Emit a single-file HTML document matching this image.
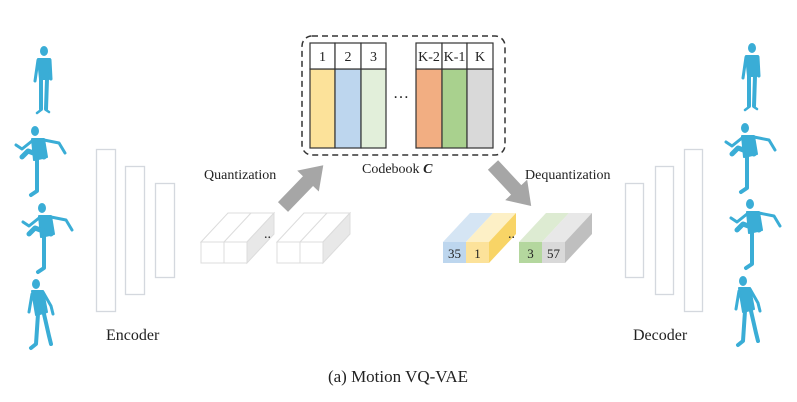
<!DOCTYPE html>
<html><head><meta charset="utf-8"><style>
html,body{margin:0;padding:0;background:#fff;}
svg{display:block;}
text{font-family:"Liberation Serif",serif;fill:#222;}
</style></head><body>
<svg width="797" height="402" viewBox="0 0 797 402" xmlns="http://www.w3.org/2000/svg">
<defs>
<g id="stand" fill="#3AADD6" stroke="#3AADD6" stroke-linecap="round" stroke-linejoin="round">
 <ellipse cx="0" cy="0" rx="4" ry="5" stroke="none"/>
 <path d="M-6 8 L6 8 L5 28 L-4 28 Z" stroke-width="2"/>
 <path d="M-6 9 L-9 30 M6 9 L7 28" stroke-width="3" fill="none"/>
 <path d="M-3 28 L-3 58 M3 28 L2 58" stroke-width="4" fill="none"/>
 <path d="M-3 59 L-7 62 M2 59 L5 61" stroke-width="2.5" fill="none"/>
</g>
<g id="kick" fill="#3AADD6" stroke="#3AADD6" stroke-linecap="round" stroke-linejoin="round">
 <ellipse cx="0" cy="0" rx="4" ry="5" stroke="none"/>
 <path d="M-3 8 L9 8 L12 26 L-1 29 Z" stroke-width="2"/>
 <path d="M9 9 L24 12 L30 22 M-3 10 L-13 18 L-19 14" stroke-width="3" fill="none"/>
 <path d="M2 28 L2 60 L-4 64" stroke-width="4" fill="none"/>
 <path d="M9 26 L-7 20 L-13 26" stroke-width="5" fill="none"/>
</g>
<g id="lean" fill="#3AADD6" stroke="#3AADD6" stroke-linecap="round" stroke-linejoin="round">
 <ellipse cx="0" cy="0" rx="4" ry="5" stroke="none"/>
 <path d="M-4 7 L7 7 L11 28 L0 31 Z" stroke-width="2"/>
 <path d="M7 8 L15 22 L17 30 M-4 10 L-7 28" stroke-width="3" fill="none"/>
 <path d="M2 30 L0 60 L-5 64 M8 30 L13 52 L15 60" stroke-width="4" fill="none"/>
</g>
</defs>

<use href="#stand" x="44" y="51"/>
<use href="#kick" x="35" y="131"/>
<use href="#kick" x="42" y="208"/>
<use href="#lean" x="36" y="284"/>
<use href="#stand" x="752" y="48"/>
<use href="#kick" x="745" y="128"/>
<use href="#kick" x="750" y="204"/>
<use href="#lean" x="743" y="281"/>

<g fill="#fff" stroke="#d4d8de" stroke-width="1.3">
 <rect x="96.5" y="149.5" width="19" height="162"/>
 <rect x="125.5" y="166.5" width="19" height="128"/>
 <rect x="155.5" y="183.5" width="19" height="94"/>
 <rect x="625.5" y="183.5" width="18" height="94"/>
 <rect x="655.5" y="166.5" width="18" height="128"/>
 <rect x="684.5" y="149.5" width="18" height="162"/>
</g>
<text x="106" y="340" font-size="16">Encoder</text>
<text x="633" y="340" font-size="16">Decoder</text>

<rect x="302" y="36" width="203" height="119" rx="10" fill="none" stroke="#333" stroke-width="1.5" stroke-dasharray="6,4"/>
<g stroke="#333" stroke-width="1.2">
 <rect x="310" y="69" width="25" height="79" fill="#FCE29A"/>
 <rect x="335" y="69" width="26" height="79" fill="#BDD6EE"/>
 <rect x="361" y="69" width="25" height="79" fill="#E2EFDA"/>
 <rect x="416" y="69" width="26" height="79" fill="#F2AE82"/>
 <rect x="442" y="69" width="25" height="79" fill="#A9D18E"/>
 <rect x="467" y="69" width="26" height="79" fill="#D9D9D9"/>
 <rect x="310" y="43" width="25" height="26" fill="#fff"/>
 <rect x="335" y="43" width="26" height="26" fill="#fff"/>
 <rect x="361" y="43" width="25" height="26" fill="#fff"/>
 <rect x="416" y="43" width="26" height="26" fill="#fff"/>
 <rect x="442" y="43" width="25" height="26" fill="#fff"/>
 <rect x="467" y="43" width="26" height="26" fill="#fff"/>
</g>
<g font-size="14" text-anchor="middle">
 <text x="322.5" y="61">1</text><text x="348" y="61">2</text><text x="373.5" y="61">3</text>
 <text x="429" y="61">K-2</text><text x="454.5" y="61">K-1</text><text x="480" y="61">K</text>
</g>
<text x="401" y="98" font-size="16" text-anchor="middle">…</text>
<text x="362" y="173" font-size="14">Codebook <tspan font-weight="bold" font-style="italic">C</tspan></text>
<text x="204" y="179" font-size="14">Quantization</text>
<text x="525" y="179" font-size="14">Dequantization</text>

<!-- arrows -->
<g transform="translate(283,207) rotate(-46)" fill="#A6A6A6">
 <polygon points="0,-7 36,-7 36,-15 58,0 36,15 36,7 0,7"/>
</g>
<g transform="translate(493,165) rotate(47)" fill="#A6A6A6">
 <polygon points="0,-7 34,-7 34,-15 56,0 34,15 34,7 0,7"/>
</g>

<!-- left cubes -->
<g stroke="#dcdcdc" stroke-width="1">
 <polygon points="201,242 228,213 274,213 247,242" fill="#fff"/>
 <line x1="224" y1="242" x2="251" y2="213"/>
 <polygon points="247,242 274,213 274,234 247,263" fill="#e8e8e8"/>
 <rect x="201" y="242" width="23" height="21" fill="#fff"/>
 <rect x="224" y="242" width="23" height="21" fill="#fff"/>
 <polygon points="277,242 304,213 350,213 323,242" fill="#fff"/>
 <line x1="300" y1="242" x2="327" y2="213"/>
 <polygon points="323,242 350,213 350,234 323,263" fill="#e8e8e8"/>
 <rect x="277" y="242" width="23" height="21" fill="#fff"/>
 <rect x="300" y="242" width="23" height="21" fill="#fff"/>
</g>
<text x="264" y="238" font-size="14">..</text>

<!-- right cubes -->
<polygon points="443,242 470,213 493,213 466,242" fill="#D5E5F4"/>
<polygon points="466,242 493,213 516,213 489,242" fill="#FDF0C6"/>
<polygon points="489,242 516,213 516,234 489,263" fill="#F8D466"/>
<rect x="443" y="242" width="23" height="21" fill="#BDD6EE"/>
<rect x="466" y="242" width="23" height="21" fill="#FCE29A"/>
<polygon points="519,242 546,213 569,213 542,242" fill="#DDEBD2"/>
<polygon points="542,242 569,213 592,213 565,242" fill="#E8E8E8"/>
<polygon points="565,242 592,213 592,234 565,263" fill="#BFBFBF"/>
<rect x="519" y="242" width="23" height="21" fill="#B4D79E"/>
<rect x="542" y="242" width="23" height="21" fill="#D9D9D9"/>
<g font-size="13" text-anchor="middle">
 <text x="454.5" y="258">35</text><text x="477.5" y="258">1</text>
 <text x="530.5" y="258">3</text><text x="553.5" y="258">57</text>
</g>
<text x="508" y="238" font-size="14">..</text>

<text x="398" y="382" font-size="17" text-anchor="middle">(a) Motion VQ-VAE</text>
</svg>
</body></html>
